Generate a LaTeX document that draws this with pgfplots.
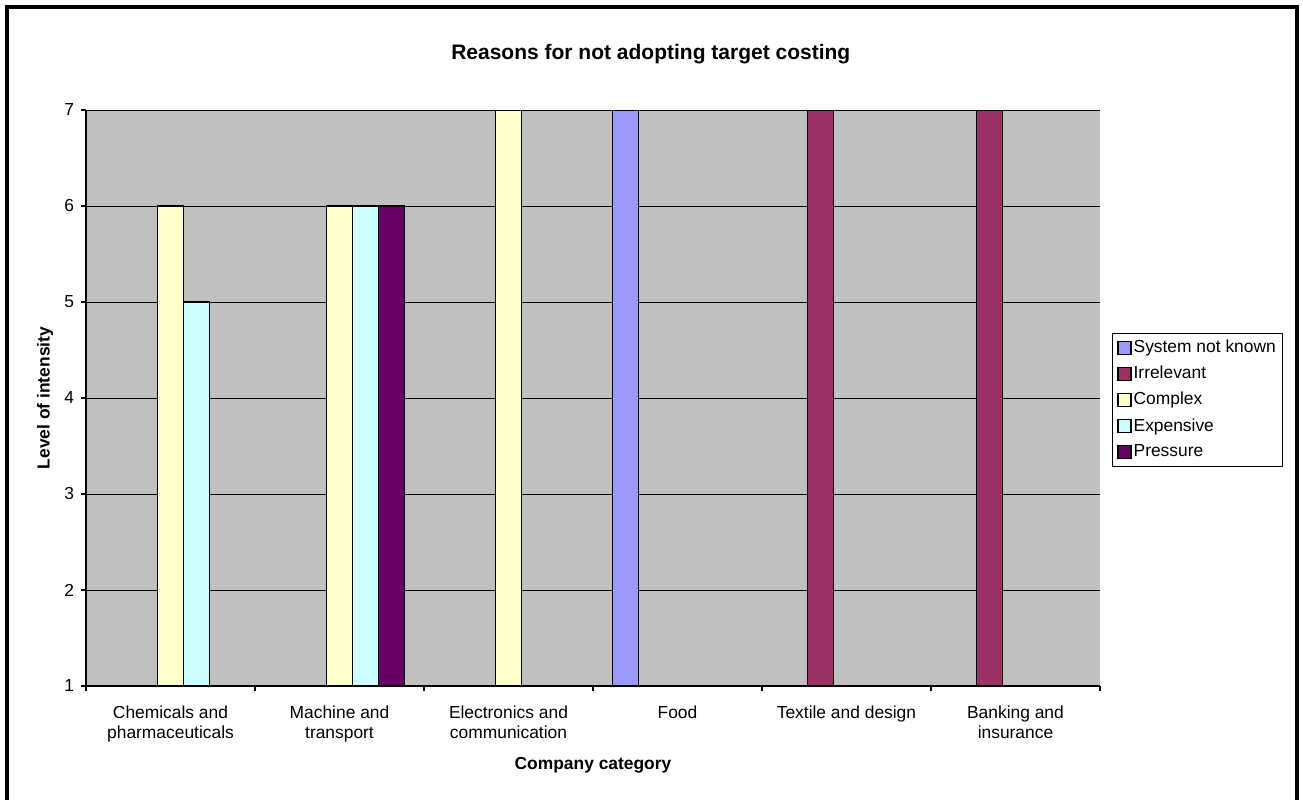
\documentclass[border=0pt]{standalone}
\usepackage{fontspec}
\setmainfont{Liberation Sans}
\usepackage{pgfplots}
\pgfplotsset{compat=1.18}
\definecolor{plotgray}{HTML}{C0C0C0}
\definecolor{snk}{HTML}{9999FF}
\definecolor{irr}{HTML}{993366}
\definecolor{cpx}{HTML}{FFFFCC}
\definecolor{exp}{HTML}{CCFFFF}
\definecolor{prs}{HTML}{660066}
\newcommand{\fs}{\fontsize{8.7}{10}\selectfont}
\begin{document}
\begin{tikzpicture}
\path[use as bounding box] (0pt,0pt) rectangle (651.5pt,399.5pt);
\draw[line width=2pt] (3.5pt,-1pt) -- (3.5pt,396pt) -- (648.5pt,396pt) -- (648.5pt,-1pt);
\begin{axis}[
  at={(43pt,56.5pt)}, anchor=south west,
  width=507pt, height=288pt, scale only axis,
  xmin=-0.5, xmax=5.5, ymin=1, ymax=7,
  ytick={1,...,7},
  xtick={0,...,5},
  xticklabels={{Chemicals and\\pharmaceuticals},{Machine and\\transport},{Electronics and\\communication},{Food},{Textile and design},{Banking and\\insurance}},
  minor xtick={-0.5,0.5,...,5.5},
  axis x line*=bottom, axis y line*=left,
  axis line style={black, line width=0.6pt, -},
  tick align=outside,
  major tick length=2.5pt, minor tick length=2.5pt,
  major x tick style={draw=none},
  tick style={black, line width=0.6pt},
  ymajorgrids, major grid style={black, line width=0.5pt},
  axis background/.style={fill=plotgray},
  xticklabel style={align=center, font=\fs, yshift=-4pt},
  yticklabel style={font=\fs, xshift=0pt},
  /pgf/number format/assume math mode=true,
  title={\textbf{Reasons for not adopting target costing}},
  title style={font=\fontsize{10.5}{12}\selectfont, at={(axis description cs:0.557,1.0764)}, anchor=center},
  xlabel={\textbf{Company category}},
  xlabel style={font=\fs, at={(axis description cs:0.5,-0.137)}, anchor=center},
  ylabel={\textbf{Level of intensity}},
  ylabel style={font=\fs, at={(axis description cs:-0.0404,0.5)}, anchor=center},
  legend style={at={(rel axis cs:1.0118,0.6128)}, anchor=north west, draw=black, fill=white, font=\fs, line width=0.5pt, inner xsep=2.5pt, inner ysep=2.2pt, row sep=3.3pt, nodes={inner sep=1pt}},
  legend cell align=left,
  legend image code/.code={\draw[#1, draw=black, line width=0.6pt] (0pt,-3.25pt) rectangle (6.5pt,3.25pt);},
  every axis plot/.append style={ybar, bar width=0.154, bar shift=0pt, draw=black, line width=0.8pt},
]
\addplot[fill=snk] coordinates {(3-0.308,7)};
\addplot[fill=irr] coordinates {(4-0.154,7) (5-0.154,7)};
\addplot[fill=cpx] coordinates {(0,6) (1,6) (2,7)};
\addplot[fill=exp] coordinates {(0.154,5) (1.154,6)};
\addplot[fill=prs] coordinates {(1.308,6)};
\legend{System not known,Irrelevant,Complex,Expensive,Pressure}
\end{axis}
\end{tikzpicture}
\end{document}
